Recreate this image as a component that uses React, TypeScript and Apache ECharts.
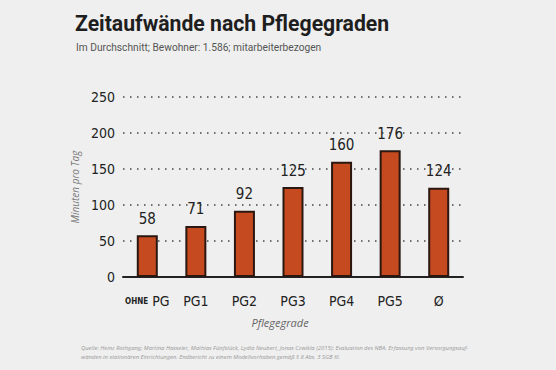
import React, { useEffect, useRef } from "react";
import * as echarts from "echarts";

const categories = ["OHNE PG", "PG1", "PG2", "PG3", "PG4", "PG5", "Ø"];
const minutes = [58, 71, 92, 125, 160, 176, 124];
const yTicks = [0, 50, 100, 150, 200, 250];
const titleText = "Zeitaufwände nach Pflegegraden";
const subtitleText = "Im Durchschnitt; Bewohner: 1.586; mitarbeiterbezogen";
const sourceLines = [
  "Quelle: Heinz Rothgang; Martina Hasseler, Mathias Fünfstück, Lydia Neubert, Jonas Czwikla (2015): Evaluation des NBA. Erfassung von Versorgungsauf-",
  "wänden in stationären Einrichtungen. Endbericht zu einem Modellvorhaben gemäß § 8 Abs. 3 SGB XI.",
];

const HAND = "'DejaVu Sans Condensed', 'Roboto', sans-serif";

export default function App() {
  const ref = useRef<HTMLDivElement>(null);
  useEffect(() => {
    if (!ref.current) return;
    const chart = echarts.init(ref.current, null, { renderer: "svg" });
    chart.setOption({
      animation: false,
      backgroundColor: "#efefef",
      title: [
        {
          text: titleText,
          left: 75,
          top: 13,
          padding: 0,
          textStyle: { fontFamily: "Roboto, sans-serif", fontWeight: "bold", fontSize: 21.2, color: "#1e1e1e" },
        },
        {
          text: subtitleText,
          left: 76,
          top: 42,
          padding: 0,
          textStyle: { fontFamily: "Roboto, sans-serif", fontWeight: "normal", fontSize: 10.2, color: "#555" },
        },
      ],
      grid: { left: 123, right: 93, top: 97, bottom: 93 },
      xAxis: {
        type: "category",
        data: categories,
        offset: 5,
        axisLine: { lineStyle: { color: "#222", width: 2 } },
        axisTick: { show: false },
        axisLabel: {
          interval: 0,
          margin: 12,
          color: "#222",
          fontFamily: HAND,
          fontSize: 14,
          formatter: (v: string) => (v.startsWith("OHNE") ? "{s|OHNE} PG" : v),
          rich: { s: { fontSize: 8, fontFamily: HAND, fontWeight: "bold", color: "#222" } },
        },
        name: "Pflegegrade",
        nameLocation: "middle",
        nameGap: 35,
        nameTextStyle: { fontStyle: "italic", fontSize: 11, color: "#666", fontFamily: "'Open Sans', sans-serif", padding: [0, 26, 0, 0] },
      },
      yAxis: {
        type: "value",
        min: yTicks[0],
        max: yTicks[yTicks.length - 1],
        interval: 50,
        axisLine: { show: false },
        axisTick: { show: false },
        axisLabel: { margin: 8, color: "#222", fontFamily: HAND, fontSize: 14 },
        splitLine: { lineStyle: { color: "#444", width: 1.5, type: [1.5, 5.5] } },
        name: "Minuten pro Tag",
        nameLocation: "middle",
        nameGap: 33,
        nameTextStyle: { fontStyle: "italic", fontSize: 10, color: "#777", fontFamily: "'Open Sans', sans-serif" },
      },
      series: [
        {
          type: "bar",
          data: minutes,
          barWidth: 21,
          itemStyle: { color: "#c64a1f", borderColor: "#2a1710", borderWidth: 2 },
          label: { show: true, position: "top", distance: 9, color: "#222", fontFamily: HAND, fontSize: 15 },
        },
      ],
      graphic: [
        {
          type: "text",
          left: 81,
          top: 343,
          style: {
            text: sourceLines.join("\n"),
            fontSize: 5.85,
            lineHeight: 9.5,
            fontStyle: "italic",
            fill: "#999",
            fontFamily: "'Open Sans', sans-serif",
          },
        },
      ],
    });
    return () => chart.dispose();
  }, []);
  return (
    <div
      ref={ref}
      style={{ position: "fixed", left: 0, top: 0, width: 556, height: 370, background: "#efefef" }}
    />
  );
}
